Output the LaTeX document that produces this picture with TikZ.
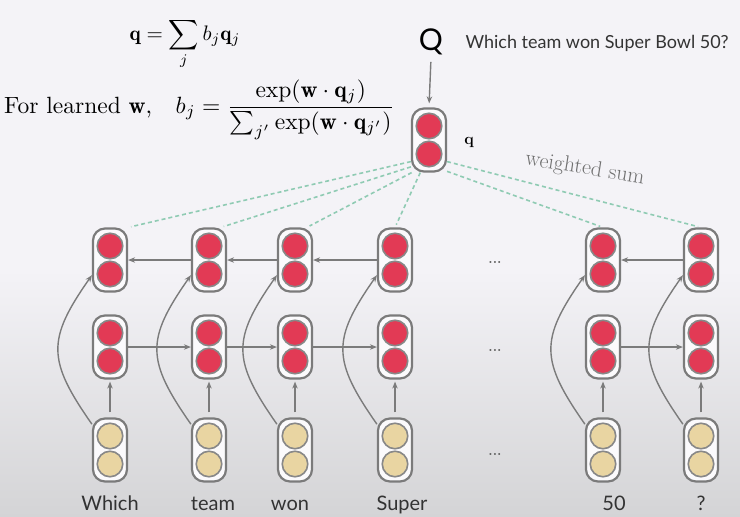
\documentclass[tikz,border=0pt]{standalone}
\usepackage{amsmath}
\usepackage{graphicx}
\usepackage{fontspec}
\newfontfamily\labelfont{Lato}
\usetikzlibrary{arrows.meta,calc}
\definecolor{bgtop}{HTML}{F4F3F7}
\definecolor{bgbot}{HTML}{D4D4D6}
\definecolor{cellred}{HTML}{E23A55}
\definecolor{cellyel}{HTML}{E9D5A2}
\definecolor{edgegray}{HTML}{7B7B7B}
\definecolor{dashgreen}{HTML}{8FCBB3}
\definecolor{textgray}{HTML}{333333}
\tikzset{
  cellbox/.style={draw=edgegray, line width=2.2pt, fill=white!60!bgtop, rounded corners=12pt,
    minimum width=34pt, minimum height=63pt, inner sep=0pt},
  dot/.style={circle, draw=edgegray!90, line width=1.6pt, minimum size=25.5pt, inner sep=0pt},
  arr/.style={draw=edgegray, line width=1.4pt, -{Stealth[length=7pt,width=5.5pt]}},
  curvearr/.style={arr, looseness=1.35},
  wsum/.style={draw=dashgreen, line width=1.6pt, dash pattern=on 4pt off 3pt, shorten >=3pt},
  word/.style={anchor=base, font=\labelfont\fontsize{20}{24}\selectfont, text=textgray},
  dots/.style={font=\fontsize{14}{16}\selectfont\bfseries, text=textgray!80}
}
\newcommand{\mycell}[4]{%
  \node[cellbox] (#1) at (#2,#3) {};
  \node[dot,fill=#4] (#1a) at (#2,#3+14) {};
  \node[dot,fill=#4] (#1b) at (#2,#3-14) {};
}
\begin{document}
\begin{tikzpicture}[x=1pt,y=1pt]
\useasboundingbox (0,0) rectangle (740,-517);
\fill[bgtop] (0,0) rectangle (740,-517);
\shade[top color=bgtop, bottom color=bgbot] (0,-270) rectangle (740,-517);

% formulas
\node[anchor=base, inner sep=0pt] (f1) at (185,-40) {\scalebox{2.1}{$\displaystyle \mathbf{q} = \sum_j b_j \mathbf{q}_j$}};
\node[anchor=base west, inner sep=0pt] (f2) at (4,-113) {\scalebox{2.35}{For learned $\mathbf{w}$,\quad $b_j = \dfrac{\exp(\mathbf{w}\cdot\mathbf{q}_j)}{\sum_{j'}\exp(\mathbf{w}\cdot\mathbf{q}_{j'})}$}};

% question
\node[anchor=base] (Q) at (431,-50) {\labelfont\fontsize{30}{36}\selectfont Q};
\node[anchor=base west, text=textgray] (qtext) at (462,-48) {\labelfont\fontsize{18}{22}\selectfont Which team won Super Bowl 50?};

% q cell
\mycell{qb}{429}{-140}{cellred}
\node (qlab) at (469,-142) {\fontsize{16}{18}\selectfont\bfseries q};
\draw[arr, shorten <=4pt, shorten >=4pt] (Q.south) -- (qb.north);

% columns
\foreach \n/\x in {1/110,2/209,3/295,4/395,5/603,6/701}{
  \mycell{t\n}{\x}{-260}{cellred}
  \mycell{m\n}{\x}{-347}{cellred}
  \mycell{b\n}{\x}{-450}{cellyel}
}

% weighted sum lines
\draw[wsum] (qb.230) -- (t1.north east);
\draw[wsum] (qb.236) -- (t2.70);
\draw[wsum] (qb.242) -- (t3.70);
\draw[wsum] (qb.255) -- (t4.north);
\draw[wsum] (qb.-60) -- (t5.north);
\draw[wsum] (qb.-50) -- (t6.north);
\node[rotate=-9, inner sep=1pt, text=textgray!70, font=\fontsize{22}{26}\selectfont] (ws) at (585,-169) {weighted sum};

% vertical arrows and curves
\foreach \n in {1,2,3,4,5,6}{
  \draw[arr, shorten <=5pt, shorten >=2pt] (b\n.north) -- (m\n.south);
  \draw[curvearr] (b\n.125) to[out=125,in=-125] (t\n.-140);
}

% horizontal arrows
\draw[arr] (t2.west) -- (t1.east);
\draw[arr] (t3.west) -- (t2.east);
\draw[arr] (t4.west) -- (t3.east);
\draw[arr] (t6.west) -- (t5.east);
\draw[arr] (m1.east) -- (m2.west);
\draw[arr] (m2.east) -- (m3.west);
\draw[arr] (m3.east) -- (m4.west);
\draw[arr] (m5.east) -- (m6.west);

% dots
\node[dots] (d1) at (495,-262) {...};
\node[dots] (d2) at (495,-350) {...};
\node[dots] (d3) at (495,-454) {...};

% words
\node[word] (w1) at (110,-510) {Which};
\node[word] (w2) at (213,-510) {team};
\node[word] (w3) at (290,-510) {won};
\node[word] (w4) at (402,-510) {Super};
\node[word] (w5) at (614,-510) {50};
\node[word] (w6) at (701,-510) {?};
\end{tikzpicture}
\end{document}
